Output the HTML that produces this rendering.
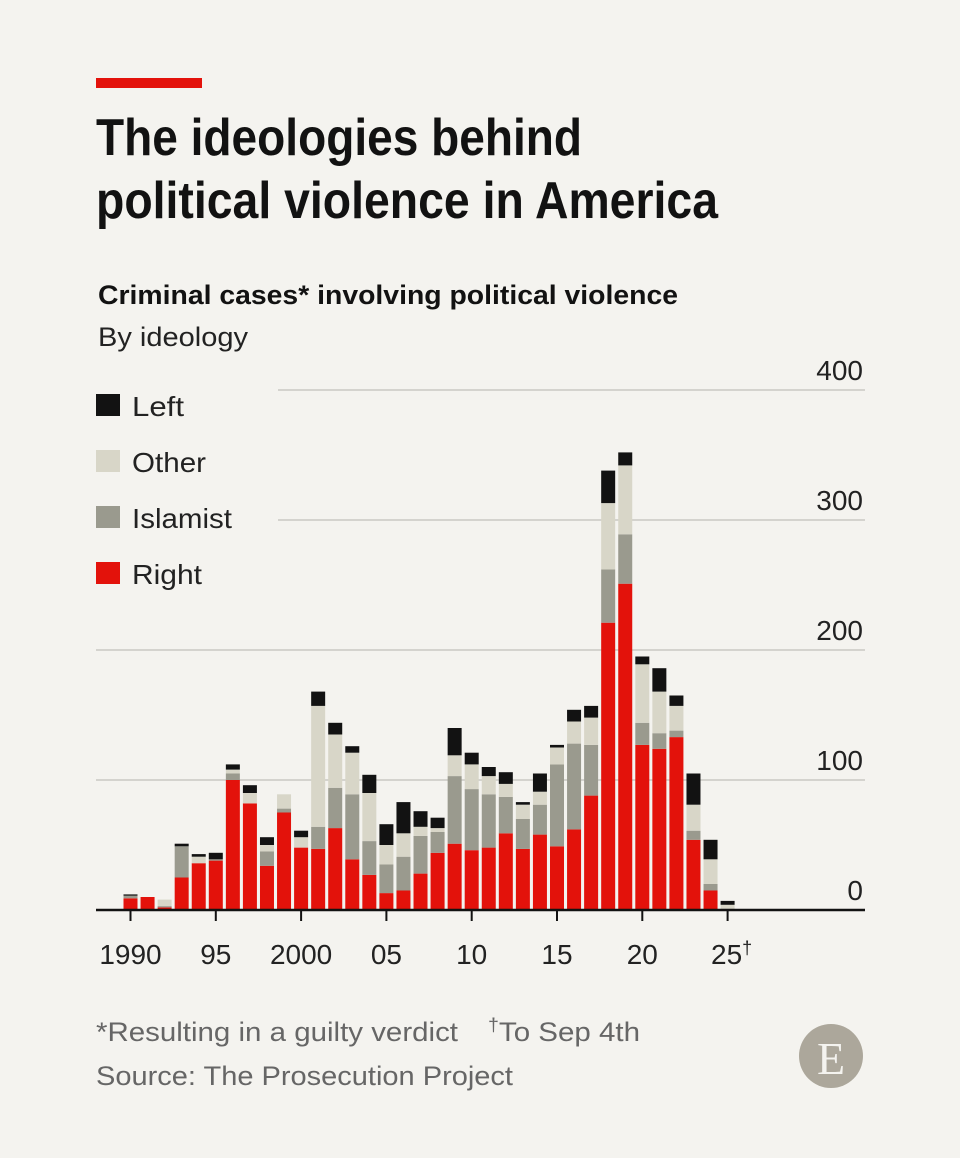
<!DOCTYPE html>
<html><head><meta charset="utf-8"><style>
html,body{margin:0;padding:0;background:#f4f3ef;}
svg{display:block;font-family:"Liberation Sans",sans-serif;}
</style></head><body>
<svg width="960" height="1158" viewBox="0 0 960 1158">
<rect width="960" height="1158" fill="#f4f3ef"/>
<rect x="96" y="78" width="106" height="10" fill="#e3120b"/>
<text x="96" y="155" font-size="52" font-weight="bold" fill="#121212" textLength="486" lengthAdjust="spacingAndGlyphs">The ideologies behind</text>
<text x="96" y="218" font-size="52" font-weight="bold" fill="#121212" textLength="622" lengthAdjust="spacingAndGlyphs">political violence in America</text>
<text x="98" y="304" font-size="27" font-weight="bold" fill="#121212" textLength="580" lengthAdjust="spacingAndGlyphs">Criminal cases* involving political violence</text>
<text x="98" y="346" font-size="27" fill="#222" textLength="150" lengthAdjust="spacingAndGlyphs">By ideology</text>
<g id="grid"></g>
<g id="bars"></g>
<g id="axis"></g>
<g>
<g><rect x="96" y="394" width="24" height="22" fill="#121212"/><text x="132" y="416" font-size="28" fill="#222" textLength="52" lengthAdjust="spacingAndGlyphs">Left</text></g>
<g><rect x="96" y="450" width="24" height="22" fill="#d8d6c8"/><text x="132" y="472" font-size="28" fill="#222" textLength="74" lengthAdjust="spacingAndGlyphs">Other</text></g>
<g><rect x="96" y="506" width="24" height="22" fill="#9a9a8e"/><text x="132" y="528" font-size="28" fill="#222" textLength="100" lengthAdjust="spacingAndGlyphs">Islamist</text></g>
<g><rect x="96" y="562" width="24" height="22" fill="#e3120b"/><text x="132" y="584" font-size="28" fill="#222" textLength="70" lengthAdjust="spacingAndGlyphs">Right</text></g>
</g>
<text x="96" y="1041" font-size="27" fill="#666" textLength="362" lengthAdjust="spacingAndGlyphs">*Resulting in a guilty verdict</text>
<text x="488" y="1041" font-size="27" fill="#666" textLength="152" lengthAdjust="spacingAndGlyphs"><tspan font-size="18" dy="-10">†</tspan><tspan dy="10">To Sep 4th</tspan></text>
<text x="96" y="1085" font-size="27" fill="#666" textLength="417" lengthAdjust="spacingAndGlyphs">Source: The Prosecution Project</text>
<g><ellipse cx="831" cy="1056" rx="32" ry="32" fill="#aca79b"/><text x="831" y="1074" font-size="46" text-anchor="middle" fill="#f4f3ef" font-family="Liberation Serif, serif">E</text></g>
</svg>
<script>
const years=[1990,1991,1992,1993,1994,1995,1996,1997,1998,1999,2000,2001,2002,2003,2004,2005,2006,2007,2008,2009,2010,2011,2012,2013,2014,2015,2016,2017,2018,2019,2020,2021,2022,2023,2024,2025];
const right=[9,10,2,25,36,38,100,82,34,75,48,47,63,39,27,13,15,28,44,51,46,48,59,47,58,49,62,88,221,251,127,124,133,54,15,0];
const islamist=[2,0,1,24,0,1,5,0,11,3,0,17,31,50,26,22,26,29,16,52,47,41,28,23,23,63,66,39,41,38,17,12,5,7,5,1];
const other=[0,0,5,0,5,0,3,8,5,11,8,93,41,32,37,15,18,7,3,16,19,14,10,11,10,13,17,21,51,53,45,32,19,20,19,3];
const left=[1,0,0,2,2,5,4,6,6,0,5,11,9,5,14,16,24,12,8,21,9,7,9,2,14,2,9,9,25,10,6,18,8,24,15,3];
const yTicks=[0,100,200,300,400];
const xTickYears=[1990,1995,2000,2005,2010,2015,2020,2025];
const xTickLabels=["1990","95","2000","05","10","15","20","25"];
const NS="http://www.w3.org/2000/svg";
const y0=910,ppu=1.3;
function yS(v){return y0-v*ppu;}
function xS(yr){return 130.5+(yr-1990)*17.06;}
const grid=document.getElementById('grid'),bars=document.getElementById('bars'),axis=document.getElementById('axis');
function mk(tag,attrs,parent){const e=document.createElementNS(NS,tag);for(const k in attrs)e.setAttribute(k,attrs[k]);parent.appendChild(e);return e;}
yTicks.forEach(t=>{
  if(t>0){const l=mk('line',{x1:t>=300?278:96,x2:865,y1:yS(t),y2:yS(t),stroke:'#d4d3ce','stroke-width':2},grid);
  
  }
  const tx=mk('text',{x:863,y:yS(t)-10,'text-anchor':'end','font-size':28,fill:'#222'},grid);
  tx.textContent=String(t);
  
  
});
const cols=['#e3120b','#9a9a8e','#d8d6c8','#121212'];
const names=['right','islamist','other','left'];
years.forEach((yr,i)=>{
  let base=0;
  [right[i],islamist[i],other[i],left[i]].forEach((v,j)=>{
    if(v>0){const r=mk('rect',{x:xS(yr)-7,y:yS(base+v),width:14,height:v*ppu,fill:cols[j]},bars);
    
    }
    base+=v;
  });
});
const ax=mk('line',{x1:96,x2:865,y1:y0,y2:y0,stroke:'#121212','stroke-width':2.5},axis);


xTickYears.forEach((yr,i)=>{
  const tk=mk('line',{x1:xS(yr),x2:xS(yr),y1:y0,y2:y0+11,stroke:'#121212','stroke-width':2},axis);
  
  
  const tx=mk('text',{x:xS(yr),y:964,'text-anchor':'middle','font-size':28,fill:'#222'},axis);
  tx.textContent=xTickLabels[i];
  if(yr===2025){const s=document.createElementNS(NS,'tspan');s.setAttribute('font-size','18');s.setAttribute('dy','-10');s.textContent='†';tx.appendChild(s);tx.setAttribute('x',xS(yr)+4);}
  
  
});
</script>
</body></html>
